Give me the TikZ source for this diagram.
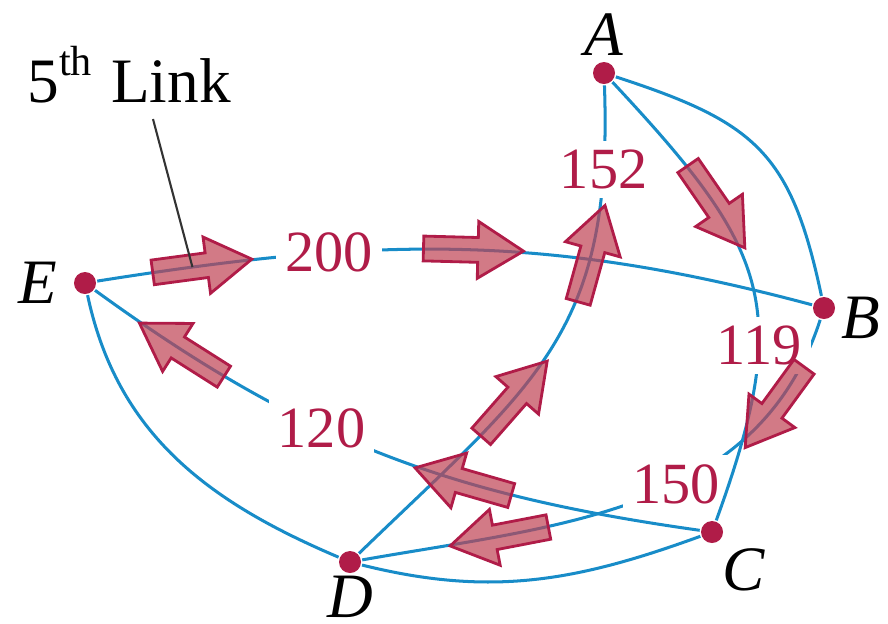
\documentclass[tikz,border=0pt]{standalone}
\usepackage{fontspec}
\setmainfont{Liberation Serif}
\usetikzlibrary{shapes.arrows}

\definecolor{roadblue}{RGB}{24,140,200}
\definecolor{cityred}{RGB}{176,28,72}
\definecolor{tourfill}{RGB}{191,66,82}

% shaft thickness of the tour arrows
\newcommand{\shaft}{\rule{0pt}{1.1mm}}

\begin{document}
\begin{tikzpicture}[x=0.05mm, y=0.05mm, font=\fontsize{8.3}{10}\selectfont,
  city/.style={circle, fill=cityred, inner sep=0pt, minimum size=0.11cm},
  cityname/.style={inner sep=0pt, font=\fontsize{9}{10}\selectfont\itshape},
  road/.style={roadblue, line width=0.43pt},
  cost/.style={text=cityred, fill=white, inner sep=1.3pt},
  tour/.style={single arrow, sloped, allow upside down, draw=cityred,
    line width=0.4pt, fill=tourfill, fill opacity=0.7, inner sep=0pt,
    minimum height=0.5cm, single arrow head extend=0.08cm,
    single arrow tip angle=64},
  back/.style={shape border rotate=180}]
  \useasboundingbox (0,0) rectangle (888,623);

  % Cities
  \node[city, label={[cityname, label distance=0.5pt]above:A}] (A) at (604,550) {};
  \node[city, label={[cityname, label distance=0.5pt, yshift=-0.5mm]right:B}] (B) at (824,315) {};
  \node[city, label={[cityname, label distance=0.7pt]-58:C}] (C) at (712,91) {};
  \node[city, label={[cityname, label distance=0.1pt]below:D}] (D) at (350,61) {};
  \node[city, label={[cityname, label distance=2pt]left:E}] (E) at (85,340) {};

  % Roads
  \draw[road] (E) to[out=9,in=165] node[cost,pos=.31]{200} (B);
  \draw[road] (E) to[out=-36,in=172] node[cost,pos=.395]{120} (C);
  \draw[road] (E) to[out=-78,in=157] (D);
  \draw[road] (D) to[out=-14,in=200] (C);
  \draw[road] (D) to[out=10,in=-108] node[cost,pos=.57]{150} (B);
  \draw[road] (D) to[out=44,in=-88,looseness=1.2] node[cost,pos=.875]{152} (A);
  \draw[road] (A) to[out=-47,in=70,looseness=1.3] node[cost,pos=.66]{119} (C);
  \draw[road] (A) to[out=-18,in=102,looseness=1.25] (B);

  % Tour arrows
  \path (E) to[out=9,in=165] node[tour,pos=.12] (link5) {\shaft} node[tour,pos=.51] {\shaft} (B);
  \path (D) to[out=10,in=-108] node[tour,back,pos=.84] {\shaft} node[tour,back,pos=.25] {\shaft} (B);
  \path (D) to[out=44,in=-88,looseness=1.2] node[tour,pos=.345] {\shaft} node[tour,pos=.7] {\shaft} (A);
  \path (A) to[out=-47,in=70,looseness=1.3] node[tour,pos=.27] {\shaft} (C);
  \path (E) to[out=-36,in=172] node[tour,back,pos=.66] {\shaft} node[tour,back,pos=.16] {\shaft} (C);

  % Callout
  \node[anchor=base, inner sep=0pt, font=\fontsize{9}{10}\selectfont] (note) at (129,521) {5\textsuperscript{th} Link};
  \draw[line width=0.3pt, black!80] ([xshift=1.2mm, yshift=-0.75mm]note.south) -- (link5.center);
\end{tikzpicture}
\end{document}
